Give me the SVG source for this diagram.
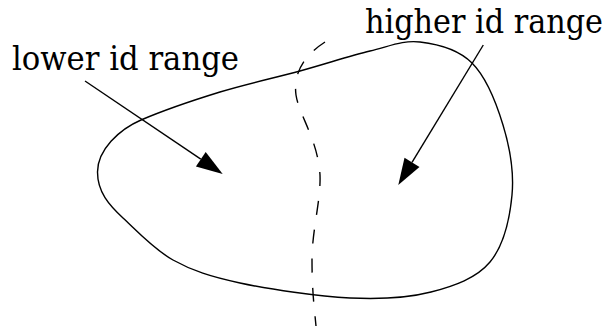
<svg xmlns="http://www.w3.org/2000/svg" width="613" height="326" viewBox="0 0 613 326">
<style>
.ln{fill:none;stroke:#000;stroke-width:1.4}
.dash{stroke-dasharray:14 15}
.lbl{font-family:"DejaVu Serif Condensed","DejaVu Serif","Liberation Serif",serif;font-stretch:condensed;font-size:33px;fill:#000}
</style>
<defs>
<marker id="ah" markerUnits="userSpaceOnUse" markerWidth="30" markerHeight="20" viewBox="0 -10 30 20" refX="0" refY="0" orient="auto" overflow="visible">
<path d="M0,-8.75 L26.4,0 L0,8.75 z" fill="#000"/>
</marker>
</defs>
<rect width="613" height="326" fill="#fff"/>
<g id="region">
<path class="ln" d="M97.5,172 C97.5,150 119,129.5 141,120 C158.5,112.5 193.5,100.17 220,92 C246.5,83.83 275,77.83 300,71 C325,64.17 350,55.83 370,51 C390,46.17 403,40 420,42 C437,44 458.17,49.17 472,63 C485.83,76.83 496.33,103 503,125 C509.67,147 514.17,172.17 512,195 C509.83,217.83 503.5,245.83 490,262 C476.5,278.17 454.33,286 431,292 C407.67,298 381.83,299.5 350,298 C318.17,296.5 269.5,289.33 240,283 C210.5,276.67 192.5,270.83 173,260 C153.5,249.17 137,231 123,218 C109,205 97.5,192 97.5,172 Z"/>
</g>
<g id="divider">
<path class="ln dash" d="M325,42 C305,55 293,72 296,95 C299,115 318,140 320,175 C321,200 312,230 312,260 C312,290 314,305 316,326"/>
</g>
<g id="label-lower">
<text class="lbl" x="12" y="70" textLength="227" lengthAdjust="spacingAndGlyphs">lower id range</text>
</g>
<g id="label-higher">
<text class="lbl" x="365" y="33" textLength="238" lengthAdjust="spacingAndGlyphs">higher id range</text>
</g>
<g id="connectors">
<line class="ln" x1="85" y1="81" x2="200.8" y2="159.2" marker-end="url(#ah)"/>
<line class="ln" x1="483.3" y1="45" x2="412" y2="162.4" marker-end="url(#ah)"/>
</g>
</svg>
